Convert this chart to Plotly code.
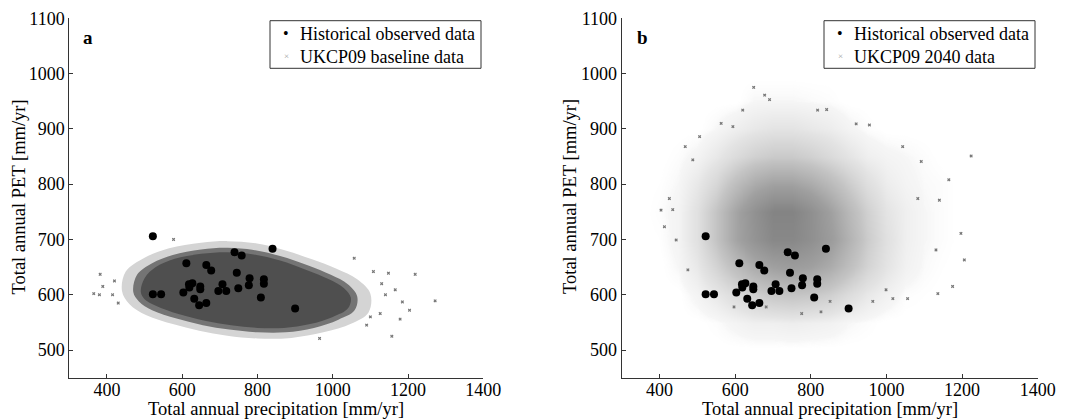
import plotly.graph_objects as go
from plotly.subplots import make_subplots

FONT = "Liberation Serif, Times New Roman, serif"

# Historical observed data (same points in both panels)
obs_precip = [522, 840, 739, 758, 611, 664, 677, 745, 779, 817, 817, 618, 627, 619, 648,
              648, 707, 777, 696, 717, 749, 603, 522, 544, 632, 809, 645, 664, 900]
obs_pet = [706, 683, 677, 671, 657, 654, 644, 640, 630, 628, 620, 619, 621, 613, 615,
           610, 619, 617, 607, 607, 612, 604, 601, 601, 593, 595, 581, 585, 575]

# UKCP09 baseline cloud (panel a): outlines of the dense core and its fuzzy edges
base_core_precip = [490, 500, 530, 580, 650, 720, 790, 860, 930, 990, 1030, 1048,
                    1040, 1000, 940, 870, 800, 730, 660, 590, 530, 500, 490]
base_core_pet = [605, 630, 650, 665, 674, 677, 673, 662, 645, 628, 612, 595,
                 575, 560, 547, 540, 540, 545, 553, 565, 580, 592, 605]
base_mid_precip = [470, 480, 520, 575, 650, 720, 790, 860, 935, 995, 1040, 1065,
                   1058, 1015, 950, 875, 800, 725, 655, 585, 520, 485, 470]
base_mid_pet = [605, 636, 657, 672, 682, 685, 681, 670, 653, 636, 619, 597,
                572, 555, 540, 532, 532, 537, 545, 557, 572, 588, 605]
base_outer_precip = [440, 450, 500, 565, 650, 720, 795, 870, 945, 1010, 1065, 1100,
                     1095, 1050, 975, 890, 800, 720, 645, 575, 505, 460, 440]
base_outer_pet = [607, 642, 667, 684, 694, 697, 693, 681, 664, 647, 628, 602,
                  568, 548, 532, 522, 521, 526, 535, 547, 563, 583, 607]
base_out_precip = [365, 380, 382, 389, 1219, 1272, 1157, 965, 1179, 1204, 1148, 1057,
                   1108, 577, 1166, 1090, 1126, 1185, 1140, 1100, 1130, 420, 430, 415]
base_out_pet = [602, 600, 637, 615, 637, 589, 525, 521, 556, 572, 639, 666,
                642, 700, 609, 545, 566, 587, 600, 560, 620, 625, 585, 600]

# UKCP09 2040 cloud (panel b): point density read on a coarse grid
fut_grid_precip = [350, 400, 450, 500, 550, 600, 650, 700, 750, 800, 850, 900, 950,
                   1000, 1050, 1100, 1150, 1200, 1250, 1300]
fut_grid_pet = [500, 550, 600, 650, 700, 750, 800, 850, 900, 950, 1000]
fut_density = [
    [0, 0, 0, 0, 0, 0, 0, 0, 0, 0, 0, 0, 0, 0, 0, 0, 0, 0, 0, 0],
    [0, 0, 0, 0, 0.1, 0.3, 0.5, 0.5, 0.6, 0.5, 0.4, 0.2, 0.1, 0, 0, 0, 0, 0, 0, 0],
    [0, 0, 0, 0.3, 0.8, 1.5, 2.2, 2.8, 3.0, 2.8, 2.3, 1.5, 0.8, 0.4, 0.1, 0.05, 0, 0, 0, 0],
    [0, 0, 0.2, 0.8, 2.0, 3.5, 5.0, 6.0, 6.5, 6.0, 5.0, 3.5, 2.0, 1.0, 0.4, 0.15, 0.05, 0, 0, 0],
    [0, 0.05, 0.3, 1.2, 3.0, 5.5, 7.5, 9.0, 9.0, 8.0, 6.5, 4.5, 2.5, 1.2, 0.5, 0.2, 0.1, 0, 0, 0],
    [0, 0.1, 0.3, 1.2, 3.0, 5.5, 7.8, 9.5, 9.5, 8.0, 6.0, 4.0, 2.2, 1.0, 0.5, 0.2, 0.1, 0, 0, 0],
    [0, 0.05, 0.2, 0.8, 1.8, 3.5, 5.0, 5.8, 5.8, 5.0, 3.8, 2.5, 1.3, 0.6, 0.3, 0.15, 0.1, 0, 0, 0],
    [0, 0, 0.1, 0.3, 0.8, 1.5, 2.2, 2.6, 2.6, 2.2, 1.6, 1.0, 0.5, 0.3, 0.2, 0.1, 0, 0, 0, 0],
    [0, 0, 0, 0, 0.2, 0.5, 0.8, 1.0, 1.0, 0.8, 0.6, 0.3, 0.1, 0, 0, 0, 0, 0, 0, 0],
    [0, 0, 0, 0, 0, 0, 0.2, 0.2, 0.2, 0.15, 0.1, 0, 0, 0, 0, 0, 0, 0, 0, 0],
    [0, 0, 0, 0, 0, 0, 0, 0, 0, 0, 0, 0, 0, 0, 0, 0, 0, 0, 0, 0],
]
fut_out_precip = [649, 678, 691, 1224, 1197, 1206, 1175, 1136, 1083, 1092, 1043, 1131,
                  1165, 1140, 435, 426, 413, 404, 444, 475, 468, 488, 506, 920, 955,
                  842, 818, 620, 594, 563, 999, 1017, 1056, 964, 776, 827, 597, 682, 851]
fut_out_pet = [975, 961, 953, 851, 711, 663, 615, 602, 774, 841, 868, 681,
               808, 771, 754, 774, 723, 753, 699, 645, 868, 844, 886, 909, 907,
               935, 934, 934, 904, 910, 609, 593, 593, 588, 566, 569, 578, 578, 588]

legend_names = ["Historical observed data", "UKCP09 baseline data", "UKCP09 2040 data"]

# the page body keeps an 8px margin, so the figure is laid out in a 1064x411 box
W, H, OFF = 1064, 411, 8


def px(x):
    return (x - OFF) / W


def py(y):
    return 1 - (y - OFF) / H


fig = make_subplots(rows=1, cols=2, horizontal_spacing=0.1)


def add_obs(col):
    fig.add_trace(go.Scatter(x=obs_precip, y=obs_pet, mode="markers",
                             marker=dict(color="black", size=8),
                             showlegend=False), row=1, col=col)


# panel a: baseline cloud
for xs, ys, col in [(base_outer_precip, base_outer_pet, "#d4d4d4"),
                    (base_mid_precip, base_mid_pet, "#747474"),
                    (base_core_precip, base_core_pet, "#4f4f4f")]:
    fig.add_trace(go.Scatter(x=xs, y=ys, mode="lines", fill="toself", fillcolor=col,
                             line=dict(width=0, shape="spline", color=col),
                             showlegend=False, hoverinfo="skip"), row=1, col=1)
fig.add_trace(go.Scatter(x=base_out_precip, y=base_out_pet, mode="markers",
                         marker=dict(color="#777777", size=3, symbol="x"),
                         showlegend=False), row=1, col=1)
add_obs(1)

# panel b: 2040 cloud
fig.add_trace(go.Heatmap(x=fut_grid_precip, y=fut_grid_pet, z=fut_density, zmin=0, zmax=10,
                         zsmooth="best", showscale=False, hoverinfo="skip",
                         colorscale=[[0, "rgba(255,255,255,0)"], [0.02, "rgb(246,246,246)"],
                                     [0.1, "rgb(228,228,228)"], [0.3, "rgb(196,196,196)"],
                                     [0.6, "rgb(160,160,160)"], [1, "rgb(128,128,128)"]]),
              row=1, col=2)
fig.add_trace(go.Scatter(x=fut_out_precip, y=fut_out_pet, mode="markers",
                         marker=dict(color="#777777", size=3, symbol="x"),
                         showlegend=False), row=1, col=2)
add_obs(2)

axis_common = dict(showline=True, linecolor="#333333", linewidth=1, ticks="inside",
                   ticklen=4, tickcolor="#333333", showgrid=False, zeroline=False,
                   automargin=False, tickfont=dict(family=FONT, size=18, color="black"))
fig.update_xaxes(range=[300, 1400], tick0=400, dtick=200, ticklabelstandoff=-4, **axis_common)
fig.update_yaxes(range=[450, 1100], tick0=500, dtick=100, **axis_common)
fig.update_layout(
    xaxis=dict(domain=[px(69.3), px(483.3)]),
    xaxis2=dict(domain=[px(621.7), px(1037.7)]),
    yaxis=dict(domain=[py(377.7), py(18.3)]),
    yaxis2=dict(domain=[py(377.7), py(18.3)]),
    width=W, height=H, margin=dict(l=0, r=0, t=0, b=0),
    paper_bgcolor="white", plot_bgcolor="white", showlegend=False,
    font=dict(family=FONT, size=18, color="black"),
)


def note(x, y, text, size=18, **kw):
    fig.add_annotation(x=px(x), y=py(y), xref="paper", yref="paper", text=text,
                       showarrow=False, xanchor=kw.pop("xanchor", "center"), yanchor="middle",
                       font=dict(family=FONT, size=size, color=kw.pop("color", "black")), **kw)


# legend boxes drawn by hand to match the original's compact layout
for left, right, cloud_name in [(270, 481, legend_names[1]), (824, 1035, legend_names[2])]:
    fig.add_shape(type="rect", xref="paper", yref="paper", x0=px(left), x1=px(right),
                  y0=py(68.3), y1=py(20.7), line=dict(color="#333333", width=1),
                  fillcolor="white", layer="above")
    note(left + 16, 33, "\u2022", size=16)
    note(left + 16, 56, "\u00d7", size=9, color="#a0a0a0")
    note(left + 28, 34, legend_names[0], xanchor="left")
    note(left + 28, 56.5, cloud_name, xanchor="left")

# panel letters and axis titles
for xc, letter in [(88, "a"), (642, "b")]:
    note(xc, 37.5, "<b>%s</b>" % letter, size=19)
for xc in [276.3, 829.7]:
    note(xc, 409, "Total annual precipitation [mm/yr]", size=18.5)
for xc in [18.5, 570]:
    note(xc, 197, "Total annual PET [mm/yr]", size=18.5, textangle=-90)

fig.write_html("out.html")
